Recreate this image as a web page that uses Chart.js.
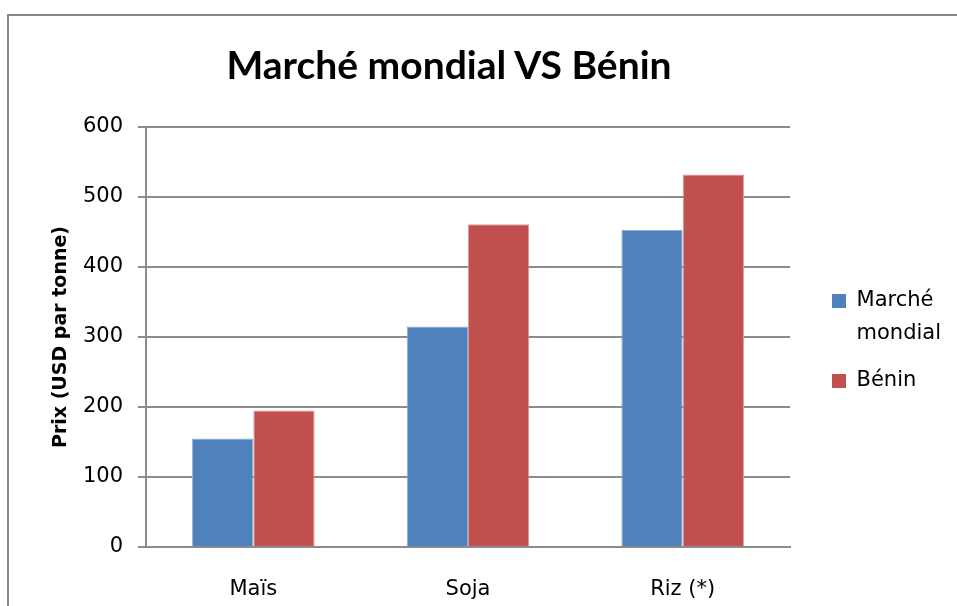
<!DOCTYPE html>
<html>
<head>
<meta charset="utf-8">
<script src="https://cdn.jsdelivr.net/npm/chart.js@4"></script>
<style>
    html, body { margin: 0; padding: 0; background: #fff; overflow: hidden; }
    #wrap { position: relative; width: 957px; height: 606px; }
    #frame { position: absolute; left: 7px; top: 14px; width: 1000px; height: 1000px; border-left: 2px solid #878787; border-top: 2px solid #878787; }
    #title { position: absolute; left: 0; top: 45px; width: 898px; text-align: center; font: bold 39px Lato, sans-serif; line-height: 39px; color: #000; }
    #chart { position: absolute; left: 0; top: 0; }
</style>
</head>
<body>
<div id="wrap">
    <div id="frame"></div>
    <canvas id="chart" width="957" height="606"></canvas>
    <div id="title">Marché mondial VS Bénin</div>
</div>
<script>
const categories = ['Maïs', 'Soja', 'Riz (*)'];
const seriesNames = ['Marché mondial', 'Bénin'];
const mondialValues = [155, 315, 453];
const beninValues = [195, 461, 532];
const yTicks = [0, 100, 200, 300, 400, 500, 600];
const yTitle = 'Prix (USD par tonne)';

Chart.defaults.font.family = "'DejaVu Sans', sans-serif";
Chart.defaults.color = '#000';

const gridColor = '#8c8c8c';

const ctx = document.getElementById('chart').getContext('2d');
const chart = new Chart(ctx, {
    type: 'bar',
    data: {
        labels: categories,
        datasets: [
            {
                label: seriesNames[0],
                data: mondialValues,
                backgroundColor: '#4f81bd',
                borderColor: '#8fb0da',
                borderWidth: 1,
                categoryPercentage: 0.571,
                barPercentage: 1
            },
            {
                label: seriesNames[1],
                data: beninValues,
                backgroundColor: '#c0504d',
                borderColor: '#e09a98',
                borderWidth: 1,
                categoryPercentage: 0.571,
                barPercentage: 1
            }
        ]
    },
    options: {
        responsive: false,
        animation: false,
        layout: {
            padding: { left: 40, top: 127, right: 6, bottom: 0 }
        },
        plugins: {
            tooltip: { enabled: false },
            legend: {
                position: 'right',
                fullSize: false,
                // empty title only pushes the centred items down a little
                title: { display: true, text: ' ', padding: 0, font: { size: 8, lineHeight: 1 } },
                labels: {
                    boxWidth: 14,
                    boxHeight: 14,
                    padding: 14,
                    color: '#000',
                    font: { size: 21, lineHeight: 1.57 },
                    generateLabels: chart => chart.data.datasets.map((ds, i) => {
                        const words = ds.label.split(' ');
                        return {
                            text: words.length > 1 ? words : ds.label,
                            fillStyle: ds.backgroundColor,
                            strokeStyle: ds.backgroundColor,
                            lineWidth: 0,
                            datasetIndex: i
                        };
                    })
                }
            }
        },
        scales: {
            x: {
                grid: { display: false },
                border: { display: true, color: gridColor, width: 2 },
                ticks: { font: { size: 21 }, color: '#000', padding: 22 },
                afterFit: scale => { scale.height = 59; }
            },
            y: {
                min: 0,
                max: 600,
                afterBuildTicks: scale => { scale.ticks = yTicks.map(v => ({ value: v })); },
                grid: { color: gridColor, lineWidth: 2, tickLength: 8 },
                border: { display: true, color: gridColor, width: 2 },
                ticks: { font: { size: 21 }, color: '#000', padding: 15 },
                title: {
                    display: true,
                    text: yTitle,
                    font: { size: 19, weight: 'bold' },
                    color: '#000',
                    padding: { top: 10, bottom: 0 }
                },
                afterFit: scale => { scale.width = 106; }
            },
            gap: {
                type: 'linear',
                position: 'right',
                grid: { display: false },
                border: { display: false },
                ticks: { display: false },
                afterFit: scale => { scale.width = 28; }
            }
        }
    }
});
</script>
</body>
</html>
